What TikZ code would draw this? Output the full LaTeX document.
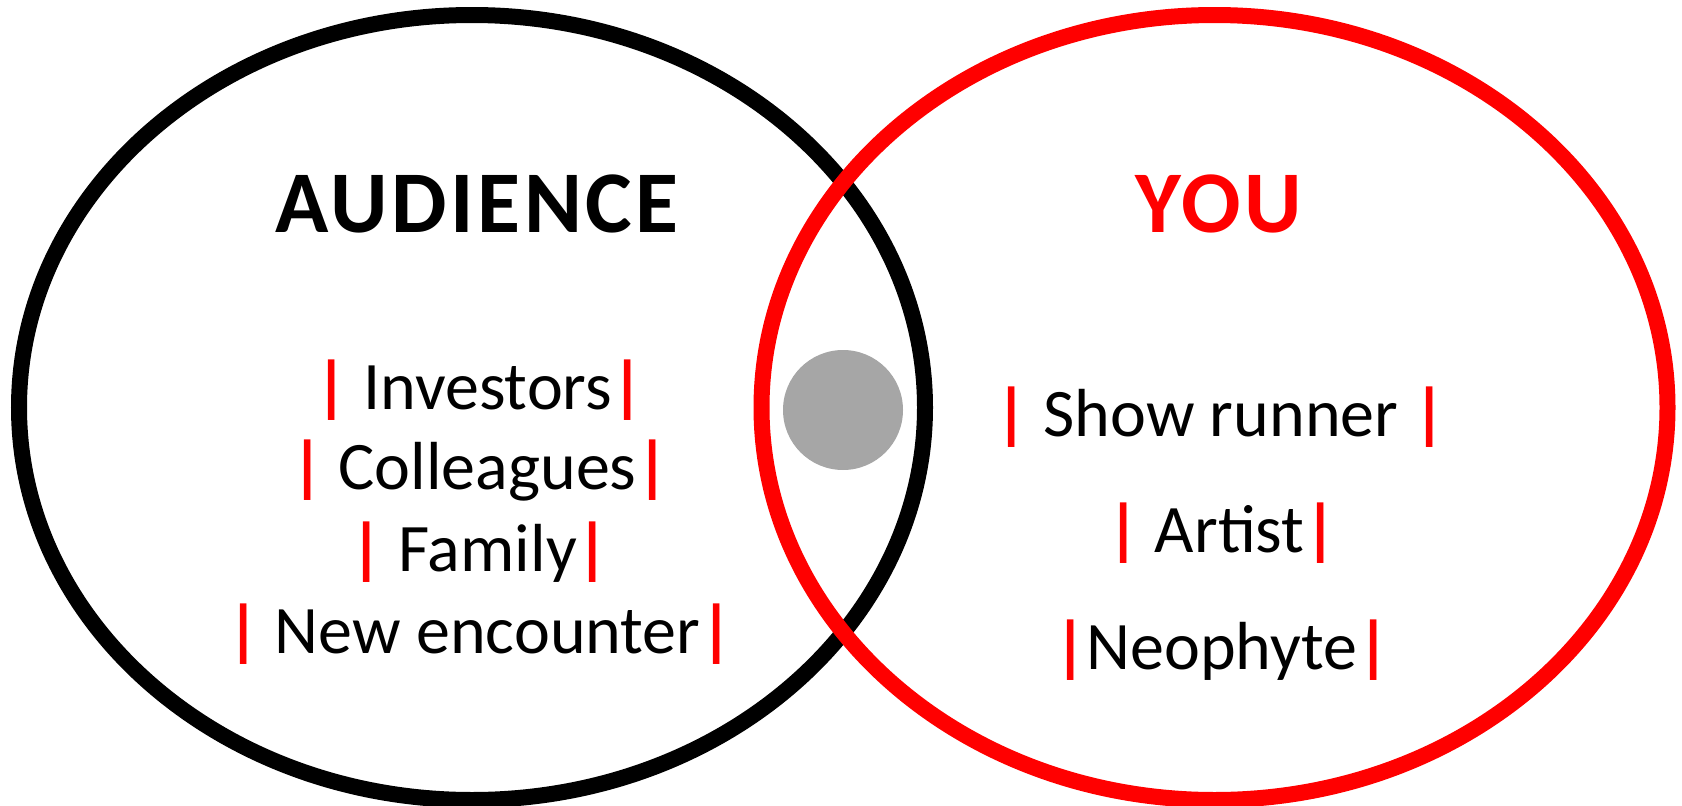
\documentclass[tikz,border=0pt]{standalone}
\usepackage{fontspec}
\setmainfont{Carlito}
\usepackage{xcolor}
\definecolor{vred}{RGB}{255,0,0}
\definecolor{dotgray}{RGB}{166,166,166}
\newcommand{\rb}{{\color{vred}\bfseries|}}
\begin{document}
\begin{tikzpicture}[x=1pt,y=-1pt,
  ring/.style={line width=16pt},
  head/.style={font=\fontsize{88}{100}\selectfont\bfseries\addfontfeature{LetterSpace=4}, inner sep=0pt, anchor=base},
  item/.style={font=\fontsize{68}{80}\selectfont, inner sep=0pt, anchor=base, text=black}]
\useasboundingbox (0,0) rectangle (1682,806);
\draw[ring, black] (472,407.5) ellipse [x radius=453, y radius=392.5];
\draw[ring, vred] (1214.5,407.5) ellipse [x radius=453, y radius=392.5];
\fill[dotgray] (843,410) circle [radius=60];
\node[head, text=black] (aud) at (477,232) {AUDIENCE};
\node[head, text=vred] (you) at (1219,232) {YOU};
\node[item] (inv) at (480,409) {\rb\ Investors\rb};
\node[item] (col) at (480,489) {\rb\ Colleagues\rb};
\node[item] (fam) at (480,571) {\rb\ Family\rb};
\node[item] (new) at (480,653) {\rb\ New encounter\rb};
\node[item] (show) at (1221,436) {\rb\ Show runner \rb};
\node[item] (art) at (1222,552) {\rb\ Artist\rb};
\node[item] (neo) at (1222,669) {\rb Neophyte\rb};
\end{tikzpicture}
\end{document}
